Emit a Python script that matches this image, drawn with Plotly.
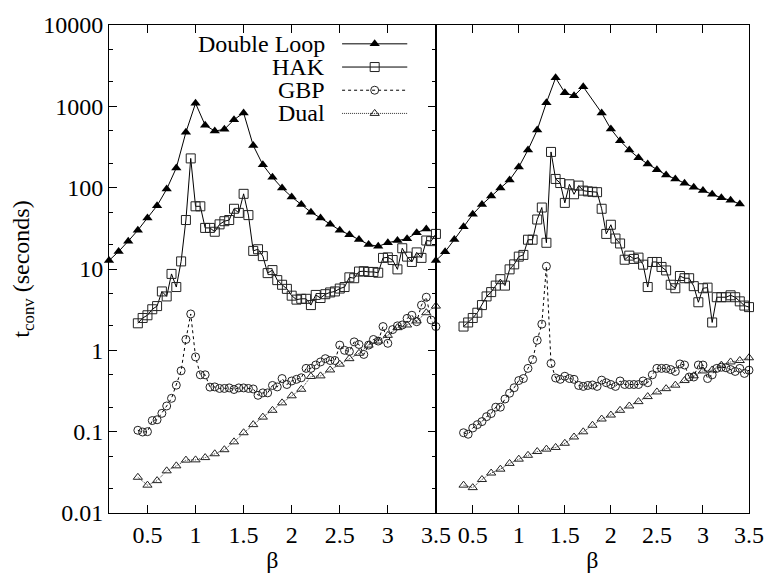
import plotly.graph_objects as go

# ---------------- data ----------------
# Left panel
dl_left_x = [0.1, 0.2, 0.3, 0.4, 0.5, 0.6, 0.7, 0.8, 0.9, 1.0, 1.1, 1.2, 1.3, 1.4, 1.5, 1.6, 1.7,
             1.8, 1.9, 2.0, 2.1, 2.2, 2.3, 2.4, 2.5, 2.6, 2.7, 2.8, 2.9, 3.0, 3.1, 3.2, 3.3, 3.4]
dl_left_y = [12.7, 16.4, 22, 30, 42.5, 60, 96, 175, 480, 1090, 586, 497, 521, 685, 830, 330, 191,
             134, 99, 77, 62, 50, 42.4, 35.4, 30, 26.4, 23, 20, 19, 21, 22.4, 23.5, 28, 31]

fine_x = [0.40, 0.45, 0.50, 0.55, 0.60, 0.65, 0.70, 0.75, 0.80, 0.85,
          0.90, 0.95, 1.00, 1.05, 1.10, 1.15, 1.20, 1.25, 1.30, 1.35,
          1.40, 1.45, 1.50, 1.55, 1.60, 1.65, 1.70, 1.75, 1.80, 1.85,
          1.90, 1.95, 2.00, 2.05, 2.10, 2.15, 2.20, 2.25, 2.30, 2.35,
          2.40, 2.45, 2.50, 2.55, 2.60, 2.65, 2.70, 2.75, 2.80, 2.85,
          2.90, 2.95, 3.00, 3.05, 3.10, 3.15, 3.20, 3.25, 3.30, 3.35,
          3.40, 3.45, 3.50]

hak_left_y = [2.15, 2.5, 2.7, 3.2, 3.5, 5.3, 4.6, 8.7, 6.0, 12.4,
              40, 229, 59, 59, 32, 32, 28.7, 35.4, 38.7, 40,
              55, 49, 84, 46, 16.7, 17.5, 14.4, 8.9, 9.7, 7.3,
              6.4, 5.7, 4.7, 4.2, 4.3, 4.3, 3.6, 4.8, 4.4, 4.9,
              5.15, 5.3, 5.75, 6.0, 7.9, 7.7, 9.3, 9.4, 9.2, 9.2,
              9.0, 13.7, 13.9, 12.9, 9.9, 18, 14.2, 12.2, 16, 13.7,
              22.4, 22, 27]

gbp_left_y = [0.104, 0.099, 0.10, 0.137, 0.14, 0.168, 0.207, 0.257, 0.373, 0.56,
              1.36, 2.8, 0.83, 0.5, 0.5, 0.353, 0.355, 0.34, 0.34, 0.345,
              0.33, 0.345, 0.345, 0.34, 0.335, 0.28, 0.30, 0.30, 0.37, 0.355,
              0.45, 0.38, 0.42, 0.44, 0.46, 0.60, 0.60, 0.66, 0.72, 0.79,
              0.75, 0.75, 1.16, 1.0, 0.97, 1.27, 1.18, 0.89, 1.16, 1.36,
              1.3, 1.96, 1.22, 1.8, 2.0, 2.05, 2.47, 2.7, 2.25, 3.6,
              4.5, 2.36, 1.96]

dual_x = [0.4, 0.5, 0.6, 0.7, 0.8, 0.9, 1.0, 1.1, 1.2, 1.3, 1.4, 1.5, 1.6, 1.7, 1.8, 1.9,
          2.0, 2.1, 2.2, 2.3, 2.4, 2.5, 2.6, 2.7, 2.8, 2.9, 3.0, 3.1, 3.2, 3.3, 3.4, 3.5]
dual_left_y = [0.0275, 0.022, 0.025, 0.033, 0.038, 0.0447, 0.045, 0.048, 0.0535, 0.06, 0.075,
               0.097, 0.122, 0.151, 0.183, 0.226, 0.276, 0.332, 0.477, 0.485, 0.574, 0.676,
               0.79, 0.92, 1.16, 1.3, 1.53, 1.9, 2.05, 2.3, 2.9, 3.5]

# Right panel
dl_right_x = [0.1, 0.2, 0.3, 0.4, 0.5, 0.6, 0.7, 0.8, 0.9, 1.0, 1.1, 1.2, 1.3, 1.4, 1.5, 1.6, 1.7,
              1.9, 2.0, 2.1, 2.2, 2.3, 2.4, 2.5, 2.6, 2.7, 2.8, 2.9, 3.0, 3.1, 3.2, 3.3, 3.4]
dl_right_y = [12.7, 16.3, 23, 33, 47, 62, 79, 99, 124, 179, 291, 512, 1110, 2240, 1470, 1345, 1740,
              830, 526, 378, 290, 233, 196, 166, 143, 128, 113, 101, 92, 83, 75, 70, 63]

hak_right_y = [1.96, 2.2, 2.5, 2.9, 3.6, 4.6, 5.2, 6.25, 7.5, 6.25,
               9.9, 11.4, 14.2, 14.9, 22.9, 22.9, 40.6, 57, 21, 275,
               128, 114, 65, 110, 83, 106, 92, 90, 89, 88,
               55, 27, 35, 23.7, 20.6, 13, 14.6, 13.3, 13.8, 11.3,
               6.0, 12.2, 12.2, 10.6, 9.6, 6.4, 5.8, 8.2, 7.7, 7.7,
               6.15, 3.9, 5.8, 5.9, 2.2, 4.5, 4.5, 4.5, 4.75, 4.5,
               4.0, 3.55, 3.4]

gbp_right_y = [0.097, 0.093, 0.111, 0.122, 0.133, 0.153, 0.167, 0.2, 0.2, 0.252,
               0.297, 0.347, 0.425, 0.45, 0.6, 0.77, 1.33, 2.1, 10.8, 0.69,
               0.457, 0.44, 0.48, 0.45, 0.44, 0.37, 0.36, 0.37, 0.375, 0.36,
               0.43, 0.4, 0.38, 0.36, 0.42, 0.38, 0.38, 0.38, 0.38, 0.42,
               0.4, 0.5, 0.6, 0.6, 0.6, 0.58, 0.55, 0.68, 0.66, 0.47,
               0.47, 0.66, 0.66, 0.45, 0.5, 0.6, 0.62, 0.61, 0.58, 0.55,
               0.6, 0.52, 0.57]

dual_right_y = [0.022, 0.0205, 0.0258, 0.031, 0.0346, 0.0407, 0.0459, 0.0512, 0.057, 0.061,
                0.064, 0.072, 0.086, 0.0996, 0.12, 0.143, 0.16, 0.183, 0.207, 0.234, 0.27,
                0.308, 0.338, 0.373, 0.425, 0.486, 0.558, 0.574, 0.658, 0.72, 0.75, 0.81]

series_names = ["Double Loop", "HAK", "GBP", "Dual"]
x_tickvals = [0.5, 1, 1.5, 2, 2.5, 3, 3.5]
x_ticktext = ["0.5", "1", "1.5", "2", "2.5", "3", "3.5"]
y_tickvals = [0.01, 0.1, 1, 10, 100, 1000, 10000]
y_ticktext = ["0.01", "0.1", "1", "10", "100", "1000", "10000"]
y_minor = [m * 10.0 ** e for e in range(-2, 4) for m in (2, 5)]

# ---------------- styles ----------------
FONT = "Liberation Serif"
FS = 24
styles = {
    "Double Loop": dict(line=dict(color="black", width=1),
                        marker=dict(symbol="triangle-up", size=9, color="black")),
    "HAK": dict(line=dict(color="black", width=1),
                marker=dict(symbol="square-open", size=9, color="#222",
                            line=dict(width=1, color="#222"))),
    "GBP": dict(line=dict(color="black", width=1, dash="3px,3px"),
                marker=dict(symbol="circle-open", size=8, color="#222",
                            line=dict(width=1, color="#222"))),
    "Dual": dict(line=dict(color="#333", width=1, dash="1px,1px"),
                 marker=dict(symbol="triangle-up-open", size=8, color="#222",
                             line=dict(width=1, color="#222"))),
}

fig = go.Figure()

panels = [
    ("x", "y", [(dl_left_x, dl_left_y), (fine_x, hak_left_y), (fine_x, gbp_left_y), (dual_x, dual_left_y)]),
    ("x2", "y2", [(dl_right_x, dl_right_y), (fine_x, hak_right_y), (fine_x, gbp_right_y), (dual_x, dual_right_y)]),
]
order = [3, 2, 1, 0]
for xa, ya, data in panels:
    for i in order:
        name = series_names[i]
        xs, ys = data[i]
        fig.add_trace(go.Scatter(x=xs, y=ys, mode="lines+markers", name=name,
                                 xaxis=xa, yaxis=ya, showlegend=False, cliponaxis=False,
                                 **styles[name]))

# ---------------- custom gnuplot-style legend (text left, sample right) ----------------
W, H = 776, 581
L, R, T, B = 109, 19, 13, 63
pw, ph = W - L - R, H - T - B
leg_text_right = (330 - L) / pw
leg_line = [(345 - L) / pw, (411 - L) / pw]
leg_mid = (378 - L) / pw
leg_rows = [(H - B - yy) / ph for yy in (32.5, 56.5, 80.5, 104.5)]

annotations = []
for name, yy in zip(series_names, leg_rows):
    st = styles[name]
    fig.add_trace(go.Scatter(x=leg_line, y=[yy, yy], mode="lines", line=st["line"],
                             xaxis="x3", yaxis="y3", showlegend=False, hoverinfo="skip"))
    fig.add_trace(go.Scatter(x=[leg_mid], y=[yy], mode="markers", marker=st["marker"],
                             xaxis="x3", yaxis="y3", showlegend=False, hoverinfo="skip"))
    annotations.append(dict(x=leg_text_right, y=yy, xref="paper", yref="paper", text=name,
                            showarrow=False, xanchor="right", yanchor="middle",
                            font=dict(family=FONT, size=FS, color="black")))

d = (440 - L) / pw

xcommon = dict(range=[0.1, 3.5], tickmode="array", tickvals=x_tickvals, ticktext=x_ticktext,
               ticks="inside", ticklen=8, tickcolor="black", showline=True, linecolor="black",
               linewidth=1, mirror="ticks", showgrid=False, zeroline=False,
               tickfont=dict(family=FONT, size=FS, color="black"),
               title=dict(text="β", font=dict(family=FONT, size=FS, color="black"), standoff=4))

fig.update_layout(
    width=W, height=H,
    margin=dict(l=L, r=R, t=T, b=B),
    paper_bgcolor="white", plot_bgcolor="rgba(0,0,0,0)",
    showlegend=False,
    xaxis=dict(domain=[0, d], anchor="y", **xcommon),
    xaxis2=dict(domain=[d, 1], anchor="y2", **xcommon),
    yaxis=dict(type="log", range=[-2, 4], domain=[0, 1], anchor="x",
               tickmode="array", tickvals=y_tickvals, ticktext=y_ticktext,
               ticks="inside", ticklen=8, tickcolor="black", showline=True, linecolor="black",
               linewidth=1, mirror="ticks", showgrid=False, zeroline=False,
               minor=dict(tickmode="array", tickvals=y_minor, ticks="inside", ticklen=4,
                          tickcolor="black", showgrid=False),
               tickfont=dict(family=FONT, size=FS, color="black"),
               title=dict(text="t<sub>conv</sub> (seconds)",
                          font=dict(family=FONT, size=FS, color="black"), standoff=6)),
    yaxis2=dict(type="log", range=[-2, 4], domain=[0, 1], anchor="x2",
                showticklabels=False, ticks="", showline=True, linecolor="black",
                linewidth=1, mirror=True, showgrid=False, zeroline=False),
    xaxis3=dict(domain=[0, 1], range=[0, 1], anchor="y3", visible=False, fixedrange=True),
    yaxis3=dict(domain=[0, 1], range=[0, 1], anchor="x3", visible=False, fixedrange=True),
    annotations=annotations,
)

fig.write_html("out.html")
